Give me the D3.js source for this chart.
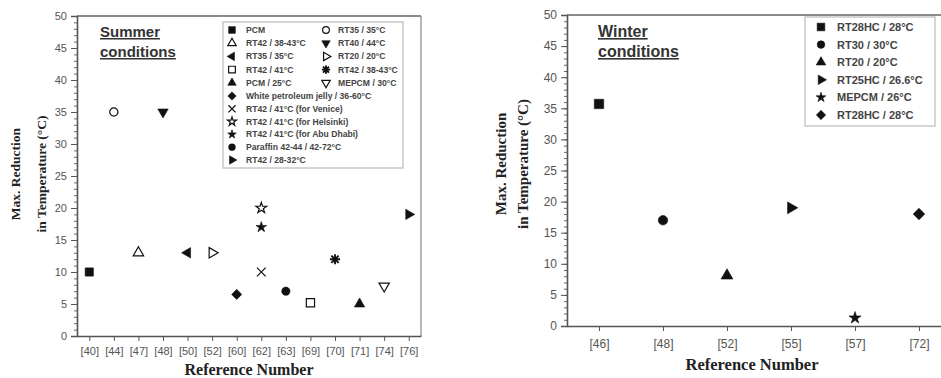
<!DOCTYPE html>
<html>
<head>
<meta charset="utf-8">
<script src="https://cdn.jsdelivr.net/npm/d3@7"></script>
<style>
  html, body { margin: 0; padding: 0; background: #fff; }
  svg { display: block; }
  .tick text { font-family: Arial, "Liberation Sans", sans-serif; fill: #555; }
</style>
</head>
<body>
<svg id="chart" width="941" height="378"></svg>
<script>
// ---- Summer conditions ----
const summerRefs = ["[40]","[44]","[47]","[48]","[50]","[52]","[60]","[62]","[63]","[69]","[70]","[71]","[74]","[76]"];
const summerLabels = [
  "PCM", "RT35 / 35°C", "RT42 / 38-43°C", "RT40 / 44°C", "RT35 / 35°C", "RT20 / 20°C",
  "RT42 / 41°C", "RT42 / 38-43°C", "PCM / 25°C", "MEPCM / 30°C",
  "White petroleum jelly / 36-60°C", "RT42 / 41°C (for Venice)", "RT42 / 41°C (for Helsinki)",
  "RT42 / 41°C (for Abu Dhabi)", "Paraffin 42-44 / 42-72°C", "RT42 / 28-32°C"
];
const summerSeriesRef = ["[40]","[44]","[47]","[48]","[50]","[52]","[69]","[70]","[71]","[74]","[60]","[62]","[62]","[62]","[63]","[76]"];
const summerValues = [10, 35, 13, 35, 13, 13, 5.2, 12, 5, 7.8, 6.5, 10, 20, 17, 7, 19];

// ---- Winter conditions ----
const winterRefs = ["[46]","[48]","[52]","[55]","[57]","[72]"];
const winterLabels = ["RT28HC / 28°C", "RT30 / 30°C", "RT20 / 20°C", "RT25HC / 26.6°C", "MEPCM / 26°C", "RT28HC / 28°C"];
const winterSeriesRef = ["[46]","[48]","[52]","[55]","[57]","[72]"];
const winterValues = [35.7, 17, 8.1, 19, 1.3, 18];

const yTicks = [0, 5, 10, 15, 20, 25, 30, 35, 40, 45, 50];

// marker styles, one per series
const summerMarkers = [
  {t: "square", f: true}, {t: "circle", f: false}, {t: "tri", f: false, r: 0}, {t: "tri", f: true, r: 180},
  {t: "tri", f: true, r: -90}, {t: "tri", f: false, r: 90}, {t: "square", f: false}, {t: "asterisk"},
  {t: "tri", f: true, r: 0}, {t: "tri", f: false, r: 180}, {t: "diamond", f: true}, {t: "x"},
  {t: "star", f: false}, {t: "star", f: true}, {t: "circle", f: true}, {t: "tri", f: true, r: 90}
];
const winterMarkers = [
  {t: "square", f: true}, {t: "circle", f: true}, {t: "tri", f: true, r: 0},
  {t: "tri", f: true, r: 90}, {t: "star", f: true}, {t: "diamond", f: true}
];

const svg = d3.select("#chart");
svg.append("rect").attr("width", 941).attr("height", 378).attr("fill", "#fff");

const INK = "#111";

function xPath(s) {
  const h = s / 2;
  return `M${-h},${-h}L${h},${h}M${-h},${h}L${h},${-h}`;
}
function asteriskPath(s) {
  const h = s / 2, d = h * 0.72;
  return `M${-h},0L${h},0M0,${-h}L0,${h}M${-d},${-d}L${d},${d}M${-d},${d}L${d},${-d}`;
}

// draw one marker of nominal size s (px) centred at the group origin
function drawMarker(g, m, s) {
  let path, rot = 0;
  if (m.t === "square") path = d3.symbol(d3.symbolSquare, s * s * 0.8)();
  else if (m.t === "diamond") { path = d3.symbol(d3.symbolSquare, s * s * 0.6)(); rot = 45; }
  else if (m.t === "circle") path = d3.symbol(d3.symbolCircle, Math.PI * (s * 0.45) ** 2)();
  else if (m.t === "tri") { path = d3.symbol(d3.symbolTriangle, s * s * 0.55)(); rot = m.r || 0; }
  else if (m.t === "star") path = d3.symbol(d3.symbolStar, s * s * 0.42)();
  else if (m.t === "x") path = xPath(s * 0.95);
  else if (m.t === "asterisk") path = asteriskPath(s * 1.1);
  const p = g.append("path").attr("d", path).attr("transform", `rotate(${rot})`);
  if (m.t === "x" || m.t === "asterisk") {
    p.attr("fill", "none").attr("stroke", INK).attr("stroke-width", m.t === "x" ? 1.2 : 1.9);
  } else if (m.f) {
    p.attr("fill", INK).attr("stroke", INK).attr("stroke-width", 0.6);
  } else {
    p.attr("fill", "#fff").attr("stroke", INK).attr("stroke-width", 1.2);
  }
}

function panel(cfg) {
  const g = svg.append("g");
  const x = d3.scalePoint().domain(cfg.refs).range([cfg.left, cfg.right]).padding(0.5);
  const y = d3.scaleLinear().domain([0, 50]).range([cfg.bottom, cfg.top]);

  // frame
  g.append("line").attr("x1", cfg.left).attr("x2", cfg.right).attr("y1", cfg.top).attr("y2", cfg.top)
    .attr("stroke", "#666").attr("stroke-width", 1.4);
  g.append("line").attr("x1", cfg.right).attr("x2", cfg.right).attr("y1", cfg.top).attr("y2", cfg.bottom)
    .attr("stroke", "#888").attr("stroke-width", 1.2);

  // minor y ticks
  g.append("g").attr("transform", `translate(${cfg.left},0)`)
    .call(d3.axisLeft(y).tickValues(d3.range(0, 51, 1)).tickSize(3).tickFormat(""))
    .call(a => a.select(".domain").remove())
    .selectAll("line").attr("stroke", "#666");

  // major y axis
  const ya = g.append("g").attr("transform", `translate(${cfg.left},0)`)
    .call(d3.axisLeft(y).tickValues(yTicks).tickSize(6).tickPadding(4));
  ya.select(".domain").attr("stroke", "#555").attr("stroke-width", 1.6);
  ya.selectAll("line").attr("stroke", "#555");
  ya.selectAll("text").attr("font-size", cfg.tickFont);

  // x axis
  const xa = g.append("g").attr("transform", `translate(0,${cfg.bottom})`)
    .call(d3.axisBottom(x).tickSize(5).tickPadding(cfg.xPad).tickSizeOuter(0));
  xa.select(".domain").attr("stroke", "#555").attr("stroke-width", 1.6);
  xa.selectAll("line").attr("stroke", "#555");
  xa.selectAll("text").attr("font-size", cfg.tickFont);

  // axis titles
  const serif = "'Liberation Serif', 'Times New Roman', serif";
  g.append("text").attr("transform", `translate(${cfg.yt1x},${cfg.ytY}) rotate(-90)`)
    .attr("text-anchor", "middle").attr("dominant-baseline", "middle")
    .attr("font-family", serif).attr("font-weight", "bold").attr("font-size", cfg.ytFont).attr("fill", "#222")
    .text("Max. Reduction");
  g.append("text").attr("transform", `translate(${cfg.yt2x},${cfg.ytY}) rotate(-90)`)
    .attr("text-anchor", "middle").attr("dominant-baseline", "middle")
    .attr("font-family", serif).attr("font-weight", "bold").attr("font-size", cfg.ytFont).attr("fill", "#222")
    .text("in Temperature (°C)");
  g.append("text").attr("x", cfg.xtX).attr("y", cfg.xtY).attr("text-anchor", "middle")
    .attr("font-family", serif).attr("font-weight", "bold").attr("font-size", cfg.xtFont).attr("fill", "#222")
    .text("Reference Number");

  // title
  const tt = g.append("text").attr("font-family", "Arial, 'Liberation Sans', sans-serif")
    .attr("font-weight", "bold").attr("font-size", cfg.titleFont).attr("fill", "#333")
    .attr("text-decoration", "underline");
  tt.append("tspan").attr("x", cfg.titleX).attr("y", cfg.titleY).text(cfg.title[0]);
  tt.append("tspan").attr("x", cfg.titleX).attr("y", cfg.titleY + cfg.titleGap).text(cfg.title[1]);

  // points
  cfg.values.forEach((v, i) => {
    const mg = g.append("g").attr("transform", `translate(${x(cfg.seriesRef[i])},${y(v)})`);
    drawMarker(mg, cfg.markers[i], cfg.markSize);
  });

  // legend
  const L = cfg.legend;
  g.append("rect").attr("x", L.x).attr("y", L.y).attr("width", L.w).attr("height", L.h)
    .attr("fill", "#fff").attr("stroke", "#bbb").attr("stroke-width", 1.2);
  cfg.labels.forEach((lab, i) => {
    const p = L.pos(i);
    const mg = g.append("g").attr("transform", `translate(${p.sx},${p.y})`);
    drawMarker(mg, cfg.markers[i], L.markSize);
    g.append("text").attr("x", p.tx).attr("y", p.y).attr("dominant-baseline", "central")
      .attr("font-family", "Arial, 'Liberation Sans', sans-serif").attr("font-weight", "bold")
      .attr("font-size", L.font).attr("fill", "#444").text(lab);
  });
}

panel({
  refs: summerRefs, seriesRef: summerSeriesRef, values: summerValues, labels: summerLabels, markers: summerMarkers,
  left: 77, right: 421, top: 16, bottom: 336,
  tickFont: 11, xPad: 6, markSize: 9.2,
  yt1x: 17, yt2x: 43, ytY: 174, ytFont: 13.5,
  xtX: 249, xtY: 375, xtFont: 16,
  title: ["Summer", "conditions"], titleX: 100, titleY: 37, titleGap: 20, titleFont: 15,
  legend: {
    x: 223, y: 22, w: 180, h: 146, font: 8.6, markSize: 7.5,
    pos: i => {
      if (i < 10) {
        const row = Math.floor(i / 2), col = i % 2;
        return {sx: col ? 326 : 232, tx: col ? 338 : 246, y: 30 + row * 13.2};
      }
      return {sx: 232, tx: 246, y: 96 + (i - 10) * 12.8};
    }
  }
});

panel({
  refs: winterRefs, seriesRef: winterSeriesRef, values: winterValues, labels: winterLabels, markers: winterMarkers,
  left: 567, right: 951, top: 15, bottom: 326,
  tickFont: 12, xPad: 8, markSize: 10.5,
  yt1x: 503, yt2x: 525, ytY: 164, ytFont: 15,
  xtX: 752, xtY: 370, xtFont: 16.5,
  title: ["Winter", "conditions"], titleX: 598, titleY: 37, titleGap: 20, titleFont: 16,
  legend: {
    x: 805, y: 17, w: 130, h: 109, font: 11, markSize: 8.5,
    pos: i => ({sx: 821, tx: 837, y: 27 + i * 17.6})
  }
});
</script>
</body>
</html>
